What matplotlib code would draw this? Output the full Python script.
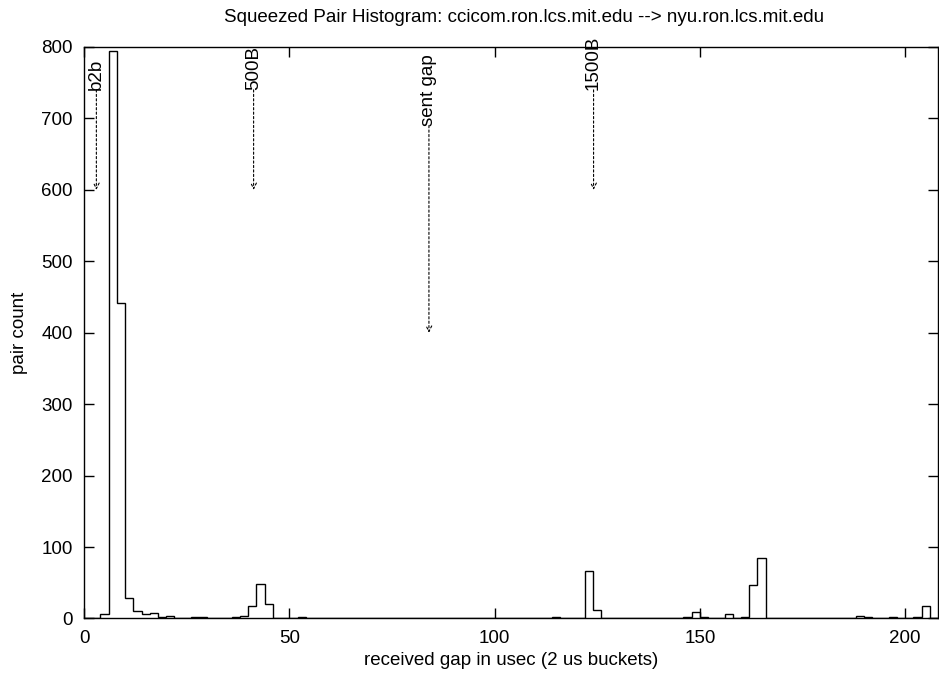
import numpy as np
import matplotlib
matplotlib.use("Agg")
import matplotlib.pyplot as plt

# non-empty 2 us buckets: left edge (usec) -> pair count
bin_left = [4, 6, 8, 10, 12, 14, 16, 18, 20, 24, 26, 28, 36, 38, 40, 42, 44,
            52, 58, 60, 96, 108, 114, 116, 118, 120, 122, 124, 130, 134,
            146, 148, 150, 156, 158, 160, 162, 164, 182, 188, 190, 194, 196,
            198, 202, 204, 206]
pair_count = [6, 795, 442, 29, 10, 6, 8, 2, 3, 1, 2, 2, 2, 3, 17, 48, 20,
              2, 1, 1, 1, 1, 2, 1, 1, 1, 66, 12, 1, 1,
              2, 9, 2, 6, 1, 2, 47, 84, 1, 3, 2, 1, 2,
              1, 2, 18, 1]

# annotations: label, x position, text start, arrow tip
marks = ["b2b", "500B", "sent gap", "1500B"]
mark_x = [3, 41.3, 84, 124.1]
mark_top = [740, 740, 690, 740]
mark_tip = [600, 600, 400, 600]

bucket = 2
x_max = 208

edges = np.arange(0, x_max + bucket, bucket)
counts = np.zeros(len(edges) - 1)
for left, c in zip(bin_left, pair_count):
    counts[left // bucket] = c

plt.rcParams['font.family'] = ['Liberation Sans', 'DejaVu Sans']
fs = 13.5

fig = plt.figure(figsize=(9.39, 6.78), dpi=100)
ax = fig.add_axes([0.0895, 0.0878, 0.9095, 0.8429])

ax.stairs(counts, edges, color='black', linewidth=1.0)

for label, x, top, tip in zip(marks, mark_x, mark_top, mark_tip):
    ax.annotate("", xy=(x, tip), xytext=(x, top),
                arrowprops=dict(arrowstyle='->', color='black', lw=0.8,
                                linestyle=(0, (2, 2)), shrinkA=0, shrinkB=0))
    ax.text(x, top, label, rotation=90, ha='left', va='center',
            fontsize=fs, rotation_mode='anchor')

ax.set_xlim(0, x_max)
ax.set_ylim(0, 800)
ax.set_xticks([0, 50, 100, 150, 200])
ax.set_yticks(np.arange(0, 801, 100))
ax.tick_params(direction='in', length=7, width=1, top=True, right=True,
               labelsize=fs)
ax.tick_params(axis='x', pad=8)
ax.tick_params(axis='y', pad=8)
for s in ax.spines.values():
    s.set_linewidth(1)

fig.text(524 / 939, 1 - 18 / 678,
         "Squeezed Pair Histogram: ccicom.ron.lcs.mit.edu --> nyu.ron.lcs.mit.edu",
         fontsize=fs, ha='center', va='center')
ax.set_xlabel("received gap in usec (2 us buckets)", fontsize=fs, labelpad=4)
ax.set_ylabel("pair count", fontsize=fs, labelpad=10)

fig.savefig("out.png", dpi=100)
